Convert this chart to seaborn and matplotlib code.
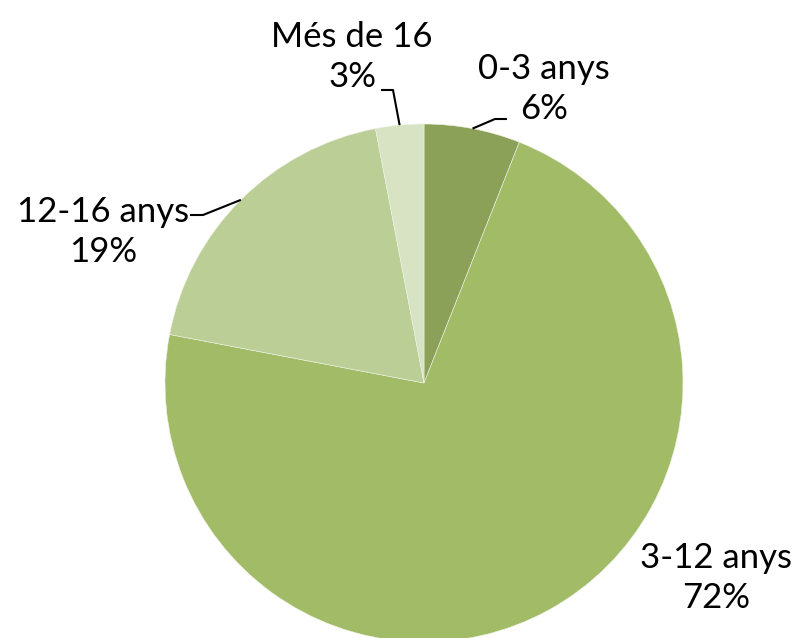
import numpy as np
import matplotlib
matplotlib.use("Agg")
import matplotlib.pyplot as plt
import seaborn as sns

# age groups and their share (%)
labels = ["0-3 anys", "3-12 anys", "12-16 anys", "Més de 16"]
values = [6, 72, 19, 3]
colors = ["#8BA157", "#A2BB66", "#BBCE95", "#D7E3C3"]

sns.set_style("white")
plt.rcParams["font.family"] = ["Lato", "DejaVu Sans"]

W, H = 796, 638
fig = plt.figure(figsize=(W / 100, H / 100), dpi=100)
ax = fig.add_axes([0, 0, 1, 1])

cx, cy, r = 424, H - 383, 259
wedges, _ = ax.pie(values, colors=colors, startangle=90, counterclock=False,
                   center=(cx, cy), radius=r,
                   wedgeprops=dict(edgecolor="#eef2e6", linewidth=0.4))
ax.set_xlim(0, W)
ax.set_ylim(0, H)
ax.set_aspect("equal")
ax.axis("off")

# label block centres (image px) and leader-line elbows
label_pos = {
    "0-3 anys": (544, 89),
    "3-12 anys": (716, 578),
    "12-16 anys": (103, 232),
    "Més de 16": (352, 57),
}
leaders = {
    "0-3 anys": [(507, 119), (495, 119)],
    "12-16 anys": [(190, 215), (203, 215)],
    "Més de 16": [(381, 90), (393, 90)],
}

for w, lab, v in zip(wedges, labels, values):
    x, y = label_pos[lab]
    ax.text(x, H - y, f"{lab}\n{v}%", ha="center", va="center",
            fontsize=25, color="black", linespacing=1.28)
    if lab in leaders:
        ang = np.deg2rad((w.theta1 + w.theta2) / 2)
        ex, ey = cx + r * np.cos(ang), cy + r * np.sin(ang)
        pts = leaders[lab]
        xs = [p[0] for p in pts] + [ex]
        ys = [H - p[1] for p in pts] + [ey]
        ax.plot(xs, ys, color="black", lw=1.5, solid_capstyle="butt")

fig.savefig("out.png", dpi=100)
